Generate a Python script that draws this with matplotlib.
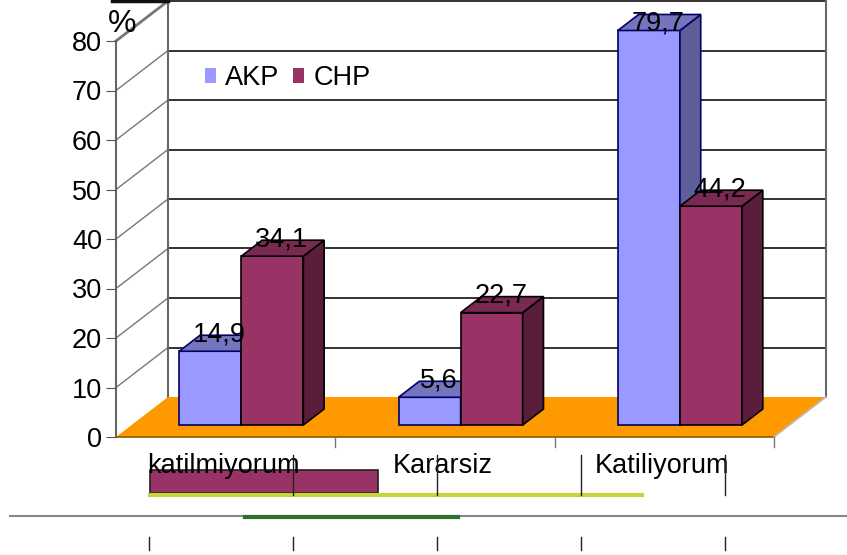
import matplotlib.pyplot as plt
from matplotlib.patches import Polygon, Patch, Rectangle
from matplotlib.lines import Line2D

plt.rcParams['font.family'] = ['Liberation Sans', 'DejaVu Sans']

kategoriler = ['katilmiyorum', 'Kararsiz', 'Katiliyorum']
akp = [14.9, 5.6, 79.7]
chp = [34.1, 22.7, 44.2]
etiket_akp = ['14,9', '5,6', '79,7']
etiket_chp = ['34,1', '22,7', '44,2']
yticks = [0, 10, 20, 30, 40, 50, 60, 70, 80]

W, H = 847, 555
FS = 19.5
fig = plt.figure(figsize=(W / 100, H / 100), dpi=100)
# front plane of the 3d box
ax = fig.add_axes([116 / W, (H - 437) / H, 658 / W, 396 / H])
ax.set_xlim(0, 3)
ax.set_ylim(0, 80)
for s in ax.spines.values():
    s.set_visible(False)
ax.set_xticks([])
ax.set_yticks(yticks)
ax.set_yticklabels([str(t) for t in yticks], fontsize=FS)
ax.tick_params(axis='y', length=7, color='#555555', pad=3)

# depth of box in data units
DX = 52 / 219.3
DV = 40 / 4.95


def P(x, v, d):
    return (x + d * DX, v + d * DV)


def poly(pts, fc, ec='none', lw=0, z=1):
    ax.add_patch(Polygon(pts, closed=True, facecolor=fc, edgecolor=ec,
                         linewidth=lw, zorder=z, clip_on=False))


# back wall + gridlines
poly([P(0, 0, 1), P(3, 0, 1), P(3, 80, 1), P(0, 80, 1)], 'white', z=0)
for v in yticks[1:]:
    a, b = P(0, v, 1), P(3, v, 1)
    ax.plot([a[0], b[0]], [a[1], b[1]], color='#222222', lw=1.3, zorder=1, clip_on=False)
    c = P(0, v, 0)
    ax.plot([c[0], a[0]], [c[1], a[1]], color='#777777', lw=2 if v == 80 else 1,
            zorder=1, clip_on=False)
for xx in [0, 3]:
    a, b = P(xx, 0, 1), P(xx, 80, 1)
    ax.plot([a[0], b[0]], [a[1], b[1]], color='#666666', lw=1.5, zorder=1, clip_on=False)
ax.plot([0, 0], [0, 80], color='#666666', lw=1.5, zorder=1, clip_on=False)

# floor
poly([P(0, 0, 0), P(3, 0, 0), P(3, 0, 1), P(0, 0, 1)], '#FF9900', z=2)
ax.plot([0, 3], [0, 0], color='#8a5a00', lw=1.2, zorder=2, clip_on=False)
a = P(3, 0, 1)
ax.plot([3, a[0]], [0, a[1]], color='#bbbbbb', lw=1.2, zorder=2, clip_on=False)
for xx in [1, 2, 3]:
    ax.plot([xx, xx], [0, -2], color='#777777', lw=1, zorder=2, clip_on=False)

bw = 0.283
d0, d1 = 0.3, 0.7
renk = {
    'akp': ('#9999FF', '#5E5E99', '#7575BF', '#000066'),
    'chp': ('#993366', '#5A1E3C', '#7A2952', '#000000'),
}


def bar3d(x0, h, key, z):
    fr, sd, tp, ec = renk[key]
    x1 = x0 + bw
    poly([P(x0, 0, d0), P(x1, 0, d0), P(x1, h, d0), P(x0, h, d0)], fr, ec, 1.2, z)
    poly([P(x1, 0, d0), P(x1, 0, d1), P(x1, h, d1), P(x1, h, d0)], sd, ec, 1.2, z)
    poly([P(x0, h, d0), P(x1, h, d0), P(x1, h, d1), P(x0, h, d1)], tp, ec, 1.2, z)


def etiket(x0, h, s):
    # label a little right of the front face centre, above its top edge
    t = P(x0 + bw / 2 + 0.041, h + 3.43, d0)
    ax.text(t[0], min(t[1], 83.6), s, fontsize=FS, ha='center', va='center', zorder=10)


for i in range(3):
    xa = i + 0.5 - bw
    xc = i + 0.5
    bar3d(xa, akp[i], 'akp', 3 + 2 * i)
    bar3d(xc, chp[i], 'chp', 4 + 2 * i)
    etiket(xa, akp[i], etiket_akp[i])
    etiket(xc, chp[i], etiket_chp[i])
    ax.text(i + 0.49, -5.9, kategoriler[i], fontsize=FS, ha='center', va='center', zorder=10)

ax.text(0.03, 83.4, '%', fontsize=23, ha='center', va='center', zorder=10)

fig.legend(handles=[Patch(facecolor='#9999FF', label='AKP'), Patch(facecolor='#993366', label='CHP')],
           loc='center left', bbox_to_anchor=(205 / W, 1 - 78 / H), ncol=2, frameon=False,
           fontsize=FS, handlelength=0.4, handleheight=0.5, handletextpad=0.35,
           columnspacing=0.5, borderpad=0, borderaxespad=0)


# leftover artefacts under the chart (pixel positions)
def fx(x):
    return x / W


def fy(y):
    return 1 - y / H


fig.add_artist(Line2D([fx(112), fx(168)], [fy(1), fy(1)], color='#111111', lw=2.5,
                      transform=fig.transFigure))
fig.add_artist(Rectangle((fx(150), fy(493)), (378 - 150) / W, 23 / H, facecolor='#993366',
                         edgecolor='#222222', linewidth=1.2, transform=fig.transFigure, zorder=-1))
fig.add_artist(Line2D([fx(150), fx(642)], [fy(495), fy(495)], color='#C8D43A', lw=3,
                      transform=fig.transFigure, zorder=-1))
for x in [293, 437, 581, 725]:
    fig.add_artist(Line2D([fx(x), fx(x)], [fy(455), fy(495)], color='#222222', lw=1,
                          transform=fig.transFigure, zorder=12))
fig.add_artist(Line2D([fx(10), fx(847)], [fy(516), fy(516)], color='#888888', lw=1.5,
                      transform=fig.transFigure))
fig.add_artist(Line2D([fx(245), fx(458)], [fy(517), fy(517)], color='#2E6E2E', lw=3,
                      transform=fig.transFigure))
for x in [149, 293, 437, 581, 725]:
    fig.add_artist(Line2D([fx(x), fx(x)], [fy(537), fy(550)], color='#222222', lw=1,
                          transform=fig.transFigure))

fig.savefig('out.png', dpi=100)
